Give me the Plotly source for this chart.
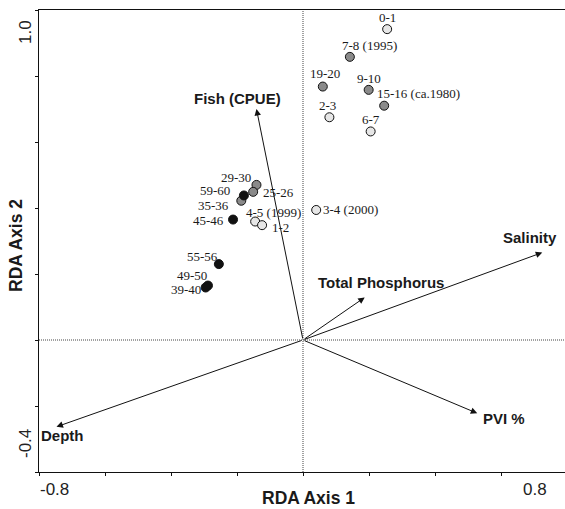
import plotly.graph_objects as go

# ---- data ----
site_labels = ["0-1", "7-8 (1995)", "19-20", "9-10", "15-16 (ca.1980)", "2-3", "6-7",
               "29-30", "25-26", "59-60", "35-36", "45-46", "4-5 (1999)", "1-2",
               "3-4 (2000)", "55-56", "49-50", "39-40"]
site_x = [0.255, 0.142, 0.060, 0.199, 0.246, 0.080, 0.205,
          -0.141, -0.151, -0.179, -0.187, -0.212, -0.145, -0.124,
          0.040, -0.255, -0.288, -0.295]
site_y = [0.942, 0.858, 0.768, 0.758, 0.710, 0.675, 0.632,
          0.470, 0.449, 0.438, 0.422, 0.365, 0.359, 0.348,
          0.394, 0.230, 0.165, 0.159]
site_group = ["light", "grey", "grey", "grey", "grey", "light", "light",
              "grey", "grey", "black", "grey", "black", "light", "light",
              "light", "black", "black", "black"]

vec_names = ["Fish (CPUE)", "Salinity", "Total Phosphorus", "PVI %", "Depth"]
vec_x = [-0.141, 0.725, 0.187, 0.528, -0.747]
vec_y = [0.700, 0.265, 0.129, -0.222, -0.263]

# ---- style ----
SANS = "Liberation Sans, Arial, sans-serif"
SERIF = "Liberation Serif, Times New Roman, serif"
group_colors = {"light": "#e6e6e6", "grey": "#8a8a8a", "black": "#111111"}

# label offsets (px): (xanchor, xshift, yshift)
site_label_style = {
    "0-1": ("center", 0, 12),
    "7-8 (1995)": ("center", 20, 11),
    "19-20": ("center", 2, 13),
    "9-10": ("center", 0, 11),
    "15-16 (ca.1980)": ("left", -8, 12),
    "2-3": ("center", -2, 12),
    "6-7": ("center", 0, 12),
    "29-30": ("right", -4, 7),
    "25-26": ("left", 9, -1),
    "59-60": ("right", -13, 5),
    "35-36": ("right", -11, -5),
    "45-46": ("right", -8, -1),
    "4-5 (1999)": ("left", -10, 9),
    "1-2": ("left", 9, -2),
    "3-4 (2000)": ("left", 6, 0),
    "55-56": ("right", 0, 8),
    "49-50": ("right", 0, 10),
    "39-40": ("right", -4, -2),
}
vec_label_shift = {
    "Fish (CPUE)": (-19, 11),
    "Salinity": (-12, 15),
    "Total Phosphorus": (16, 15),
    "PVI %": (27, -5),
    "Depth": (6, -9),
}

fig = go.Figure()

# reference dotted lines through origin
dot = dict(color="#444444", width=1, dash="1px,1px")
fig.add_shape(type="line", xref="x", yref="paper", x0=0, x1=0, y0=0, y1=1,
              line=dot, layer="below")
fig.add_shape(type="line", xref="paper", yref="y", x0=0, x1=1, y0=0, y1=0,
              line=dot, layer="below")

annotations = []

# environmental vectors
for name, vx, vy in zip(vec_names, vec_x, vec_y):
    annotations.append(dict(
        x=vx, y=vy, ax=0, ay=0, xref="x", yref="y", axref="x", ayref="y",
        showarrow=True, arrowhead=2, arrowsize=1.3, arrowwidth=1, arrowcolor="#111111",
        text=""))
    dx, dy = vec_label_shift[name]
    annotations.append(dict(
        x=vx, y=vy, xref="x", yref="y", showarrow=False, text=name,
        xanchor="center", yanchor="middle", xshift=dx, yshift=dy,
        font=dict(family=SANS, size=15, color="#1a1a1a", weight="bold")))

# sites
for grp in ["light", "grey", "black"]:
    xs = [x for x, g in zip(site_x, site_group) if g == grp]
    ys = [y for y, g in zip(site_y, site_group) if g == grp]
    fig.add_trace(go.Scatter(
        x=xs, y=ys, mode="markers", showlegend=False, hoverinfo="skip",
        marker=dict(size=9, color=group_colors[grp], line=dict(color="#111111", width=1))))

for lab, sx, sy in zip(site_labels, site_x, site_y):
    anchor, dx, dy = site_label_style[lab]
    annotations.append(dict(
        x=sx, y=sy, xref="x", yref="y", showarrow=False, text=lab,
        xanchor=anchor, yanchor="middle", xshift=dx, yshift=dy, borderpad=0,
        font=dict(family=SERIF, size=13, color="#1a1a1a")))

# axis end labels
tick_font = dict(family=SANS, size=17, color="#222222")
annotations += [
    dict(x=0, y=0, xref="paper", yref="paper", text="-0.8", showarrow=False,
         xanchor="left", yanchor="middle", xshift=-1, yshift=-17, font=tick_font),
    dict(x=1, y=0, xref="paper", yref="paper", text="0.8", showarrow=False,
         xanchor="right", yanchor="middle", xshift=-16, yshift=-17, font=tick_font),
    dict(x=0, y=1, xref="paper", yref="paper", text="1.0", showarrow=False,
         textangle=-90, xanchor="center", yanchor="middle", xshift=-14, yshift=-22,
         font=tick_font),
    dict(x=0, y=0, xref="paper", yref="paper", text="-0.4", showarrow=False,
         textangle=-90, xanchor="center", yanchor="middle", xshift=-14, yshift=28,
         font=tick_font),
    dict(x=0, y=0, xref="x", yref="paper", text="RDA Axis 1", showarrow=False,
         xanchor="center", yanchor="middle", xshift=5, yshift=-26,
         font=dict(family=SANS, size=17.5, color="#1a1a1a", weight="bold")),
    dict(x=0, y=0.5, xref="paper", yref="paper", text="RDA Axis 2", showarrow=False,
         textangle=-90, xanchor="center", yanchor="middle", xshift=-23, yshift=-5,
         font=dict(family=SANS, size=17.5, color="#1a1a1a", weight="bold")),
]

x_range = [-0.8, -0.8 + 526 / 330]
fig.update_layout(
    width=565, height=509,
    margin=dict(l=39, r=0, t=10, b=37),
    paper_bgcolor="white", plot_bgcolor="white",
    annotations=annotations,
    xaxis=dict(range=x_range, showgrid=False, zeroline=False, showline=True,
               linecolor="#111111", linewidth=1, mirror=True,
               ticks="outside", ticklen=3, tickcolor="#111111",
               tickvals=[-0.8, -0.6, -0.4, -0.2, 0, 0.2, 0.4, 0.6],
               showticklabels=False, fixedrange=True),
    yaxis=dict(range=[-0.4, 1.0], showgrid=False, zeroline=False, showline=True,
               linecolor="#111111", linewidth=1, mirror=False,
               ticks="outside", ticklen=3, tickcolor="#111111",
               tickvals=[-0.4, -0.2, 0, 0.2, 0.4, 0.6, 0.8, 1.0],
               showticklabels=False, fixedrange=True),
)

fig.write_html("out.html")
